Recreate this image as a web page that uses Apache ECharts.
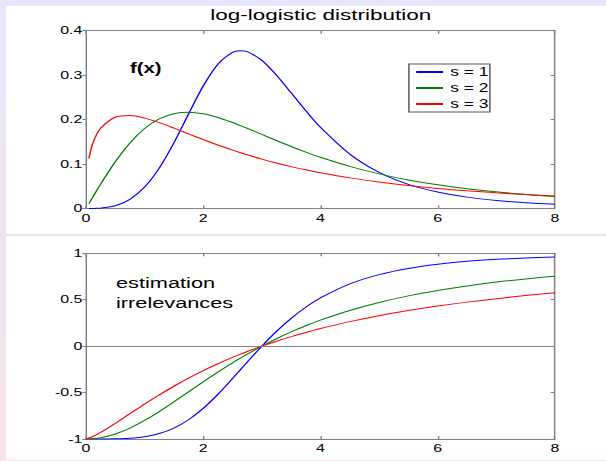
<!DOCTYPE html>
<html>
<head>
<meta charset="utf-8">
<script src="https://cdn.jsdelivr.net/npm/echarts@6/dist/echarts.min.js"></script>
<style>
  html, body { margin: 0; padding: 0; }
  body {
    width: 606px; height: 461px; overflow: hidden;
    background: linear-gradient(to bottom, #e6e5fa, #f9e3ea);
  }
  /* the source picture is stretched sideways, so the chart is too */
  #main { width: 418px; height: 461px; transform: scaleX(1.45); transform-origin: 0 0; }
</style>
</head>
<body>
<div id="main"></div>
<script>
// upper panel: density f(x)
var xPdf  = [0.05, 0.1, 0.15, 0.25, 0.5, 0.75, 1, 1.25, 1.5, 1.75, 2, 2.25, 2.5, 2.625, 2.75, 3, 3.25, 3.5, 3.75, 4, 4.5, 5, 5.5, 6, 6.5, 7, 7.5, 8];
var pdfS1 = [0.0000, 0.0000, 0.0002, 0.0008, 0.0062, 0.0207, 0.0482, 0.0909, 0.1476, 0.2126, 0.2755, 0.3246, 0.3512, 0.3550, 0.3528, 0.3333, 0.2999, 0.2602, 0.2199, 0.1826, 0.1224, 0.0813, 0.0543, 0.0369, 0.0256, 0.0180, 0.0130, 0.0095];
var pdfS2 = [0.0111, 0.0222, 0.0332, 0.0548, 0.1052, 0.1476, 0.1800, 0.2017, 0.2133, 0.2165, 0.2130, 0.2048, 0.1935, 0.1871, 0.1805, 0.1667, 0.1529, 0.1395, 0.1269, 0.1152, 0.0947, 0.0779, 0.0643, 0.0533, 0.0445, 0.0375, 0.0317, 0.0270];
var pdfS3 = [0.1126, 0.1400, 0.1579, 0.1807, 0.2052, 0.2090, 0.2033, 0.1931, 0.1808, 0.1679, 0.1551, 0.1428, 0.1314, 0.1260, 0.1208, 0.1111, 0.1023, 0.0942, 0.0870, 0.0803, 0.0689, 0.0595, 0.0517, 0.0452, 0.0398, 0.0352, 0.0313, 0.0279];

// lower panel: estimation irrelevances
var xCdf  = [0, 0.1, 0.25, 0.5, 0.75, 1, 1.25, 1.5, 1.75, 2, 2.25, 2.5, 2.625, 2.75, 3, 3.25, 3.5, 3.75, 4, 4.5, 5, 5.5, 6, 6.5, 7, 7.5, 8];
var cdfS1 = [-1, -1.0000, -0.9999, -0.9985, -0.9922, -0.9756, -0.9415, -0.8824, -0.7925, -0.6701, -0.5193, -0.3493, -0.2609, -0.1723, 0, 0.1587, 0.2989, 0.4188, 0.5193, 0.6701, 0.7705, 0.8374, 0.8824, 0.9132, 0.9347, 0.9501, 0.9612];
var cdfS2 = [-1, -0.9978, -0.9862, -0.9459, -0.8824, -0.8000, -0.7041, -0.6000, -0.4922, -0.3846, -0.2800, -0.1803, -0.1327, -0.0868, 0, 0.0799, 0.1529, 0.2195, 0.2800, 0.3846, 0.4706, 0.5414, 0.6000, 0.6488, 0.6897, 0.7241, 0.7534];
var cdfS3 = [-1, -0.9788, -0.9298, -0.8320, -0.7279, -0.6245, -0.5253, -0.4318, -0.3446, -0.2639, -0.1895, -0.1210, -0.0888, -0.0579, 0, 0.0533, 0.1024, 0.1477, 0.1895, 0.2639, 0.3280, 0.3834, 0.4318, 0.4742, 0.5116, 0.5447, 0.5743];

var seriesNames = ['s = 1', 's = 2', 's = 3'];
var seriesColors = ['#0000ff', '#008000', '#ff0000'];

var xTicks = [0, 2, 4, 6, 8];
var pdfTicks = [0, 0.1, 0.2, 0.3, 0.4];
var cdfTicks = [-1, -0.5, 0, 0.5, 1];

var font = 'Liberation Sans, Arial, sans-serif';
var axisGray = '#808080';

function pairs(xs, ys) {
  return xs.map(function (x, i) { return [x, ys[i]]; });
}

function xAxes(gridIndex) {
  var base = {
    gridIndex: gridIndex, type: 'value',
    min: xTicks[0], max: xTicks[xTicks.length - 1], interval: xTicks[1] - xTicks[0],
    axisLine: { onZero: false, lineStyle: { color: axisGray, width: 1 } },
    axisTick: { inside: true, length: 3, lineStyle: { color: axisGray } },
    splitLine: { show: false }
  };
  return [
    Object.assign({}, base, { position: 'bottom',
      axisLabel: { margin: 4, fontSize: 11, fontFamily: font, color: '#000' } }),
    Object.assign({}, base, { position: 'top', axisLabel: { show: false } })
  ];
}

function yAxes(gridIndex, ticks) {
  var base = {
    gridIndex: gridIndex, type: 'value',
    min: ticks[0], max: ticks[ticks.length - 1], interval: ticks[1] - ticks[0],
    axisLine: { onZero: false, lineStyle: { color: axisGray, width: 1 } },
    splitLine: { show: false }
  };
  return [
    Object.assign({}, base, { position: 'left',
      axisTick: { inside: false, length: 2.5, lineStyle: { color: axisGray } },
      axisLabel: { margin: 2.5, fontSize: 11, fontFamily: font, color: '#000' } }),
    Object.assign({}, base, { position: 'right',
      axisTick: { inside: true, length: 3, lineStyle: { color: axisGray } },
      axisLabel: { show: false } })
  ];
}

function lineSeries(i, xs, ys, axisIndex) {
  return {
    name: seriesNames[i], type: 'line',
    xAxisIndex: axisIndex, yAxisIndex: axisIndex,
    data: pairs(xs, ys),
    symbol: 'none', smooth: 0.3,
    lineStyle: { color: seriesColors[i], width: 1 },
    itemStyle: { color: seriesColors[i] }
  };
}

var myChart = echarts.init(document.getElementById('main'), null, { renderer: 'svg' });

var series = [
  lineSeries(0, xPdf, pdfS1, 0),
  lineSeries(1, xPdf, pdfS2, 0),
  lineSeries(2, xPdf, pdfS3, 0),
  lineSeries(0, xCdf, cdfS1, 2),
  lineSeries(1, xCdf, cdfS2, 2),
  lineSeries(2, xCdf, cdfS3, 2)
];
// zero line of the lower panel
series[3].markLine = {
  silent: true, symbol: 'none', label: { show: false },
  lineStyle: { color: axisGray, type: 'solid', width: 1 },
  data: [{ yAxis: 0 }]
};

var option = {
  animation: false,
  graphic: [
    { type: 'rect', left: 4.2, top: 6, z: -10, silent: true,
      shape: { width: 414, height: 227.7 }, style: { fill: '#ffffff' } },
    { type: 'rect', left: 4.2, top: 236, z: -10, silent: true,
      shape: { width: 414, height: 224 }, style: { fill: '#ffffff' } }
  ],
  title: [
    { text: 'log-logistic distribution', left: 145, top: 7, padding: 0,
      textStyle: { fontSize: 15.5, fontWeight: 'normal', fontFamily: font, color: '#000' } },
    { text: 'f(x)', left: 89.7, top: 61, padding: 0,
      textStyle: { fontSize: 14, fontWeight: 'bold', fontFamily: font, color: '#000' } },
    { text: 'estimation\nirrelevances', left: 80, top: 273, padding: 0,
      textStyle: { fontSize: 15, lineHeight: 20, fontWeight: 'normal', fontFamily: font, color: '#000' } }
  ],
  legend: {
    data: seriesNames, orient: 'vertical', left: 282, top: 64,
    itemWidth: 18.5, itemHeight: 12, itemGap: 4, padding: [2, 1, 2, 4],
    itemStyle: { opacity: 0, borderWidth: 0 },
    backgroundColor: '#fff', borderColor: '#555', borderWidth: 1, borderRadius: 0,
    selectedMode: false,
    textStyle: { fontSize: 12, fontFamily: font, color: '#000' }
  },
  grid: [
    { left: 59.3, top: 30.7, width: 323.4, height: 177.8 },
    { left: 59.3, top: 253.3, width: 323.4, height: 185.7 }
  ],
  xAxis: xAxes(0).concat(xAxes(1)),
  yAxis: yAxes(0, pdfTicks).concat(yAxes(1, cdfTicks)),
  series: series
};
myChart.setOption(option);
</script>
</body>
</html>
